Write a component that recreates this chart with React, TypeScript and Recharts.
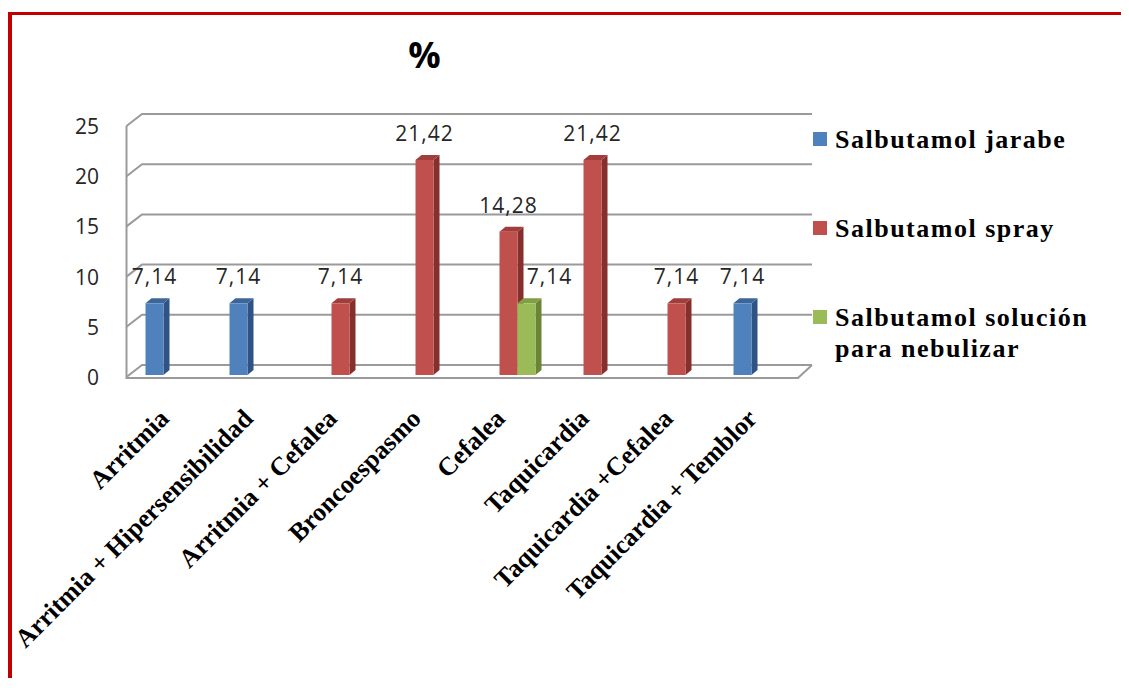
import React from "react";
import {
  BarChart,
  Bar,
  XAxis,
  YAxis,
  CartesianGrid,
  Legend,
  LabelList,
} from "recharts";

// categorias y porcentajes por presentacion
const categories = [
  "Arritmia",
  "Arritmia + Hipersensibilidad",
  "Arritmia + Cefalea",
  "Broncoespasmo",
  "Cefalea",
  "Taquicardia",
  "Taquicardia +Cefalea",
  "Taquicardia + Temblor",
];
const jarabe = [7.14, 7.14, null, null, null, null, null, 7.14];
const spray = [null, null, 7.14, 21.42, 14.28, 21.42, 7.14, null];
const solucion = [null, null, null, null, 7.14, null, null, null];
const yTicks = [0, 5, 10, 15, 20, 25];

const data = categories.map((name, i) => ({
  name,
  jarabe: jarabe[i],
  spray: spray[i],
  solucion: solucion[i],
}));

const series = [
  { key: "jarabe", name: "Salbutamol jarabe", front: "#4f81bd", side: "#2f5384", top: "#3c6699", labelDx: 0 },
  { key: "spray", name: "Salbutamol spray", front: "#c0504d", side: "#872f2d", top: "#a13d3a", labelDx: 0 },
  { key: "solucion", name: "Salbutamol solución para nebulizar", front: "#9bbb59", side: "#6b8536", top: "#819f45", labelDx: 23 },
];

// layout
const CHART_W = 1109;
const CHART_H = 667;
const PLOT_LEFT = 118.5;
const PLOT_TOP = 109;
const PLOT_W = 672;
const PLOT_H = 251;
const Y_AXIS_W = 60;
const X_AXIS_H = 200;
const DX = 6;
const DY = 5;
const GRID = "#9a9a9a";

const fmt = (v: number) => v.toFixed(2).replace(".", ",");

function bar3d(front: string, side: string, top: string) {
  return (p: any) => {
    const { x, y, width: w, height: h } = p;
    if (!h || h <= 0) return <g />;
    return (
      <g>
        <polygon
          points={`${x + w},${y} ${x + w + DX},${y - DY} ${x + w + DX},${y + h - DY} ${x + w},${y + h}`}
          fill={side}
        />
        <polygon
          points={`${x},${y} ${x + DX},${y - DY} ${x + w + DX},${y - DY} ${x + w},${y}`}
          fill={top}
        />
        <rect x={x} y={y} width={w} height={h} fill={front} />
      </g>
    );
  };
}

function valueLabel(dx: number) {
  return (p: any) => {
    const { x, y, width, value } = p;
    if (value == null) return null;
    return (
      <text
        x={x + width / 2 + dx}
        y={y - 27}
        textAnchor="middle"
        dominantBaseline="central"
        fontFamily="'Open Sans', sans-serif"
        fontSize={21}
        letterSpacing={1}
        fill="#262626"
      >
        {fmt(value)}
      </text>
    );
  };
}

// back wall lines, left wall edge and floor
const gridLine = (p: any) => {
  const { x1, x2, y1, index } = p;
  const bottom = PLOT_TOP + PLOT_H;
  const isFloor = Math.abs(y1 - bottom) < 0.5;
  return (
    <g key={`h-${index}`}>
      <path
        d={`M${x1 - 4},${y1 + 2} L${x1 + 11.5},${y1 - 10} L${x2 + 9.5},${y1 - 10}`}
        fill="none"
        stroke={GRID}
        strokeWidth={2}
      />
      {isFloor && (
        <path
          d={`M${x1 - 4},${PLOT_TOP + 2} L${x1 - 4},${bottom + 3} L${x2 - 4.5},${bottom + 3} L${x2 + 9.5},${bottom - 10}`}
          fill="none"
          stroke={GRID}
          strokeWidth={2}
        />
      )}
    </g>
  );
};

const YTick = (p: any) => (
  <text
    x={PLOT_LEFT - 31.5}
    y={p.y + 2}
    textAnchor="end"
    dominantBaseline="central"
    fontFamily="'Open Sans', sans-serif"
    fontSize={21}
    fill="#262626"
  >
    {p.payload.value}
  </text>
);

const XTick = (p: any) => {
  const ax = p.x - 2;
  const ay = PLOT_TOP + PLOT_H + 45;
  return (
    <text
      x={ax}
      y={ay}
      transform={`rotate(-45 ${ax} ${ay})`}
      textAnchor="end"
      fontFamily="'Liberation Serif', serif"
      fontWeight="bold"
      fontSize={26}
      fill="#000"
    >
      {p.payload.value}
    </text>
  );
};

const LegendBox = (props: any) => {
  const order = series.map((s) => s.name);
  const items = [...(props.payload || [])].sort(
    (a: any, b: any) => order.indexOf(a.value) - order.indexOf(b.value)
  );
  return (
    <div style={{ position: "relative", height: 0 }}>
      <div
        style={{
          position: "absolute",
          left: 801,
          top: 108.5,
          display: "flex",
          flexDirection: "column",
          gap: 58,
        }}
      >
        {items.map((it: any) => (
          <div key={it.value} style={{ display: "flex", alignItems: "flex-start" }}>
            <div
              style={{
                width: 14,
                height: 14,
                marginTop: 8.5,
                marginRight: 8,
                background: it.color,
              }}
            />
            <div
              style={{
                width: 272,
                fontFamily: "'Liberation Serif', serif",
                fontWeight: "bold",
                fontSize: 26,
                letterSpacing: 1.5,
                lineHeight: "31px",
                color: "#000",
              }}
            >
              {it.value}
            </div>
          </div>
        ))}
      </div>
    </div>
  );
};

export default function App() {
  return (
    <div
      style={{
        position: "relative",
        top: 4,
        width: 1113,
        height: 670,
        boxSizing: "border-box",
        borderTop: "3px solid #c00000",
        borderLeft: "4px solid #c00000",
        background: "#fff",
      }}
    >
      <div
        style={{
          position: "absolute",
          left: 362.5,
          top: 15,
          width: 100,
          textAlign: "center",
          lineHeight: "50px",
          fontFamily: "'Open Sans', sans-serif",
          fontWeight: 700,
          fontSize: 36,
          color: "#000",
        }}
      >
        %
      </div>
      <BarChart
        width={CHART_W}
        height={CHART_H}
        data={data}
        margin={{
          top: PLOT_TOP,
          left: PLOT_LEFT - Y_AXIS_W,
          right: CHART_W - PLOT_LEFT - PLOT_W,
          bottom: CHART_H - PLOT_TOP - PLOT_H - X_AXIS_H,
        }}
        barCategoryGap={15}
        barGap={0}
      >
        <CartesianGrid vertical={false} horizontal={gridLine} />
        <XAxis
          dataKey="name"
          interval={0}
          height={X_AXIS_H}
          axisLine={false}
          tickLine={false}
          tick={XTick}
        />
        <YAxis
          domain={[0, 25]}
          ticks={yTicks}
          width={Y_AXIS_W}
          axisLine={false}
          tickLine={false}
          tick={YTick}
        />
        <Legend
          layout="horizontal"
          verticalAlign="top"
          wrapperStyle={{ top: 0, left: 0, width: CHART_W, height: 0 }}
          content={LegendBox}
        />
        {series.map((s) => (
          <Bar
            key={s.key}
            dataKey={s.key}
            name={s.name}
            fill={s.front}
            shape={bar3d(s.front, s.side, s.top)}
            isAnimationActive={false}
          >
            <LabelList dataKey={s.key} content={valueLabel(s.labelDx)} />
          </Bar>
        ))}
      </BarChart>
    </div>
  );
}
